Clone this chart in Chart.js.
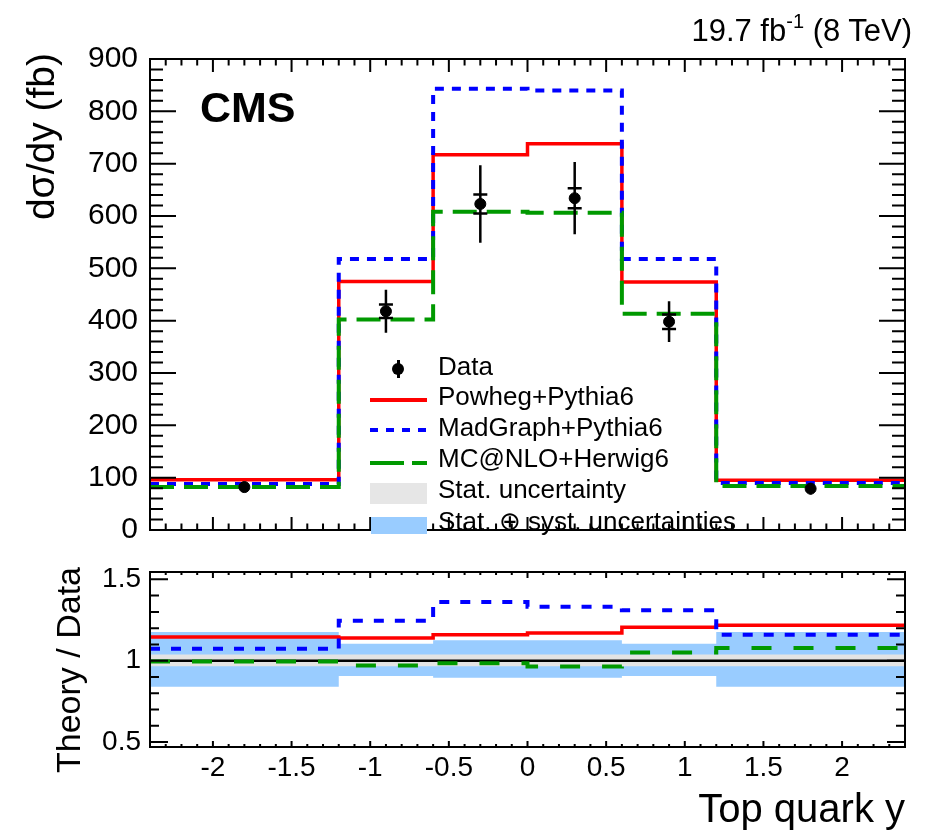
<!DOCTYPE html>
<html>
<head>
<meta charset="utf-8">
<script src="https://cdn.jsdelivr.net/npm/chart.js@4.4.1/dist/chart.umd.min.js"></script>
<style>
  body { margin: 0; background: #fff; }
  #wrap { position: relative; width: 936px; height: 830px; overflow: hidden;
          font-family: "Liberation Sans", Arial, sans-serif; color: #000; }
  canvas { position: absolute; left: 0; }
  .t { position: absolute; white-space: nowrap; line-height: 1; }
  .rot { transform-origin: 0 0; transform: rotate(-90deg); text-align: right; }
  .sw { position: absolute; }
</style>
</head>
<body>
<div id="wrap">
  <canvas id="cTop" width="936" height="560" style="top:0"></canvas>
  <canvas id="cRatio" width="936" height="300" style="top:530px"></canvas>

  <div class="t" style="right:24px;top:15px;font-size:31px;">19.7 fb<sup style="font-size:20px;vertical-align:0;position:relative;top:-13px;">-1</sup> (8 TeV)</div>
  <div class="t" style="left:200px;top:86px;font-size:43px;font-weight:bold;">CMS</div>

  <div class="t rot" style="left:21px;top:353px;width:300px;font-size:39px;">dσ/dy (fb)</div>
  <div class="t rot" style="left:51px;top:867px;width:300px;font-size:34px;">Theory / Data</div>
  <div class="t" style="right:31px;top:788px;font-size:40px;">Top quark y</div>

  <!-- legend -->
  <div class="sw" style="left:397px;top:360px;width:2.5px;height:18px;background:#000;"></div>
  <div class="sw" style="left:392px;top:363px;width:12px;height:12px;border-radius:50%;background:#000;"></div>
  <div class="sw" style="left:370px;top:398px;width:57px;height:4px;background:#ff0000;"></div>
  <div class="sw" style="left:370px;top:428px;width:57px;height:4px;background:repeating-linear-gradient(90deg,#0000ff 0 8px,transparent 8px 16px);"></div>
  <div class="sw" style="left:370px;top:461px;width:57px;height:4px;background:linear-gradient(90deg,#009900 0 34px,transparent 34px 42px,#009900 42px 57px);"></div>
  <div class="sw" style="left:370px;top:483px;width:57px;height:21px;background:#e6e6e6;"></div>
  <div class="sw" style="left:371px;top:517px;width:56px;height:17px;background:#99ccff;"></div>
  <div class="t" style="left:438px;top:353px;font-size:26px;">Data</div>
  <div class="t" style="left:438px;top:383px;font-size:26px;">Powheg+Pythia6</div>
  <div class="t" style="left:438px;top:414px;font-size:26px;">MadGraph+Pythia6</div>
  <div class="t" style="left:438px;top:445px;font-size:26px;">MC@NLO+Herwig6</div>
  <div class="t" style="left:438px;top:476px;font-size:26px;">Stat. uncertainty</div>
  <div class="t" style="left:438px;top:508px;font-size:26px;">Stat. ⊕ syst. uncertainties</div>
</div>

<script>
// bins in top quark rapidity
const binEdges   = [-2.4, -1.2, -0.6, 0, 0.6, 1.2, 2.4];
const binCenters = [-1.8, -0.9, -0.3, 0.3, 0.9, 1.8];

// dsigma/dy (fb)
const powheg   = [96, 475, 717, 738, 474, 95];
const madgraph = [88, 518, 843, 840, 518, 90];
const mcatnlo  = [82, 402, 608, 606, 413, 84];
const dataVals  = [82, 418, 623, 634, 398, 79];
const dataStat  = [3, 13, 18, 19, 14, 3];
const dataTotal = [10, 41, 74, 69, 39, 11];

// theory / data
const ratioPowheg   = [1.146, 1.139, 1.160, 1.170, 1.205, 1.218];
const ratioMadgraph = [1.073, 1.246, 1.360, 1.331, 1.310, 1.160];
const ratioMcatnlo  = [0.995, 0.970, 0.985, 0.964, 1.050, 1.078];
const unity    = [1, 1, 1, 1, 1, 1];
const statUp   = [1.038, 1.038, 1.038, 1.038, 1.038, 1.038];
const statDown = [0.966, 0.966, 0.966, 0.966, 0.966, 0.966];
const systUp   = [1.177, 1.104, 1.125, 1.125, 1.104, 1.177];
const systDown = [0.840, 0.906, 0.896, 0.896, 0.906, 0.840];

// tick labels
const xTicks     = [-2, -1.5, -1, -0.5, 0, 0.5, 1, 1.5, 2];
const topYTicks  = [0, 100, 200, 300, 400, 500, 600, 700, 800, 900];
const ratioYTicks = [0.5, 1, 1.5];

const FONT = '"Liberation Sans", Arial, sans-serif';

// one point per bin edge; the last edge repeats the last bin value
function stepPoints(vals) {
  return binEdges.map((e, i) => ({ x: e, y: vals[Math.min(i, vals.length - 1)] }));
}

function histo(vals, color, width, dash, order) {
  return {
    data: stepPoints(vals), stepped: 'before', borderColor: color, borderWidth: width,
    borderDash: dash, pointRadius: 0, fill: false, order: order, borderCapStyle: 'butt'
  };
}

function band(vals, fill, color, order) {
  return { data: stepPoints(vals), stepped: 'before', borderWidth: 0, pointRadius: 0,
           fill: fill, backgroundColor: color, order: order };
}

// ROOT-like frame with ticks pointing inward on all four sides
function frameTicks(cfg) {
  return {
    id: 'frameTicks',
    afterDraw(chart) {
      const ctx = chart.ctx, a = chart.chartArea;
      const xs = chart.scales.x, ys = chart.scales.y;
      ctx.save();
      ctx.strokeStyle = '#000';
      ctx.lineWidth = 2;
      const near = (v, arr) => arr.some(m => Math.abs(m - v) < 1e-6);
      const minors = (min, max, step) => {
        const out = [];
        for (let k = Math.ceil(min / step - 1e-6); k * step <= max + 1e-6; k++) out.push(+(k * step).toFixed(6));
        return out;
      };
      ctx.beginPath();
      minors(xs.min, xs.max, cfg.xMinor).forEach(v => {
        if (Math.abs(v - xs.min) < 1e-6 || Math.abs(v - xs.max) < 1e-6) return;
        const len = near(v, xTicks) ? cfg.xMajLen : cfg.xMinLen;
        const px = xs.getPixelForValue(v);
        ctx.moveTo(px, a.bottom); ctx.lineTo(px, a.bottom - len);
        ctx.moveTo(px, a.top); ctx.lineTo(px, a.top + len);
      });
      minors(ys.min, ys.max, cfg.yMinor).forEach(v => {
        if (Math.abs(v - ys.min) < 1e-6 || Math.abs(v - ys.max) < 1e-6) return;
        const len = near(v, cfg.yMajors) ? cfg.yMajLen : cfg.yMinLen;
        const py = ys.getPixelForValue(v);
        ctx.moveTo(a.left, py); ctx.lineTo(a.left + len, py);
        ctx.moveTo(a.right, py); ctx.lineTo(a.right - len, py);
      });
      ctx.stroke();
      ctx.strokeRect(a.left, a.top, a.right - a.left, a.bottom - a.top);
      ctx.restore();
    }
  };
}

// data error bars: total as vertical line, stat as short horizontal marks
const errorBars = {
  id: 'errorBars',
  beforeDatasetDraw(chart, args) {
    if (chart.data.datasets[args.index].isData !== true) return;
    const ctx = chart.ctx, xs = chart.scales.x, ys = chart.scales.y;
    ctx.save();
    ctx.strokeStyle = '#000';
    ctx.lineWidth = 2.5;
    ctx.beginPath();
    binCenters.forEach((c, i) => {
      const px = xs.getPixelForValue(c);
      ctx.moveTo(px, ys.getPixelForValue(dataVals[i] + dataTotal[i]));
      ctx.lineTo(px, ys.getPixelForValue(dataVals[i] - dataTotal[i]));
      if (dataStat[i] > 5) {
        [dataVals[i] + dataStat[i], dataVals[i] - dataStat[i]].forEach(v => {
          const py = ys.getPixelForValue(v);
          ctx.moveTo(px - 7, py); ctx.lineTo(px + 7, py);
        });
      }
    });
    ctx.stroke();
    ctx.restore();
  }
};

new Chart(document.getElementById('cTop'), {
  type: 'line',
  data: {
    datasets: [
      histo(powheg, '#ff0000', 3.5, [], 4),
      histo(madgraph, '#0000ff', 4, [9, 8], 3),
      histo(mcatnlo, '#009900', 4, [24, 10], 2),
      {
        isData: true, data: binCenters.map((x, i) => ({ x: x, y: dataVals[i] })),
        showLine: false, pointRadius: 5.5, pointBorderWidth: 1,
        pointBackgroundColor: '#000', pointBorderColor: '#000', order: 1
      }
    ]
  },
  options: {
    responsive: false, animation: false,
    layout: { padding: { top: 59, right: 31, left: 0, bottom: 8 } },
    scales: {
      x: { type: 'linear', min: -2.4, max: 2.4, display: false },
      y: {
        min: 0, max: 900,
        afterFit: s => { s.width = 150; },
        afterBuildTicks: s => { s.ticks = topYTicks.map(v => ({ value: v })); },
        grid: { display: false, drawTicks: false },
        border: { display: false },
        ticks: { color: '#000', padding: 12, font: { family: FONT, size: 30 } }
      }
    },
    plugins: { legend: { display: false }, tooltip: { enabled: false } }
  },
  plugins: [errorBars, frameTicks({ xMinor: 0.1, xMajLen: 13, xMinLen: 6.5, yMinor: 20, yMajors: topYTicks, yMajLen: 26, yMinLen: 13 })]
});

new Chart(document.getElementById('cRatio'), {
  type: 'line',
  data: {
    datasets: [
      band(systUp, '+1', '#99ccff', 10),
      band(systDown, false, '#99ccff', 10),
      band(statUp, '+1', '#e3e3e3', 9),
      band(statDown, false, '#e3e3e3', 9),
      histo(unity, '#000', 2.5, [], 8),
      histo(ratioPowheg, '#ff0000', 3.5, [], 4),
      histo(ratioMadgraph, '#0000ff', 4, [10, 11], 3),
      histo(ratioMcatnlo, '#009900', 4, [20, 22], 2)
    ]
  },
  options: {
    responsive: false, animation: false,
    layout: { padding: { top: 42, right: 31, left: 0, bottom: 0 } },
    scales: {
      x: {
        type: 'linear', min: -2.4, max: 2.4,
        afterFit: s => { s.height = 83; },
        afterBuildTicks: s => { s.ticks = xTicks.map(v => ({ value: v })); },
        grid: { display: false, drawTicks: false },
        border: { display: false },
        ticks: { color: '#000', padding: 4, maxRotation: 0, font: { family: FONT, size: 28 }, callback: v => String(v) }
      },
      y: {
        min: 0.47, max: 1.545,
        afterFit: s => { s.width = 150; },
        afterBuildTicks: s => { s.ticks = ratioYTicks.map(v => ({ value: v })); },
        grid: { display: false, drawTicks: false },
        border: { display: false },
        ticks: { color: '#000', padding: 9, font: { family: FONT, size: 28 }, callback: v => String(v) }
      }
    },
    plugins: { legend: { display: false }, tooltip: { enabled: false } }
  },
  plugins: [frameTicks({ xMinor: 0.1, xMajLen: 6, xMinLen: 3, yMinor: 0.1, yMajors: ratioYTicks, yMajLen: 18, yMinLen: 9 })]
});
</script>
</body>
</html>
